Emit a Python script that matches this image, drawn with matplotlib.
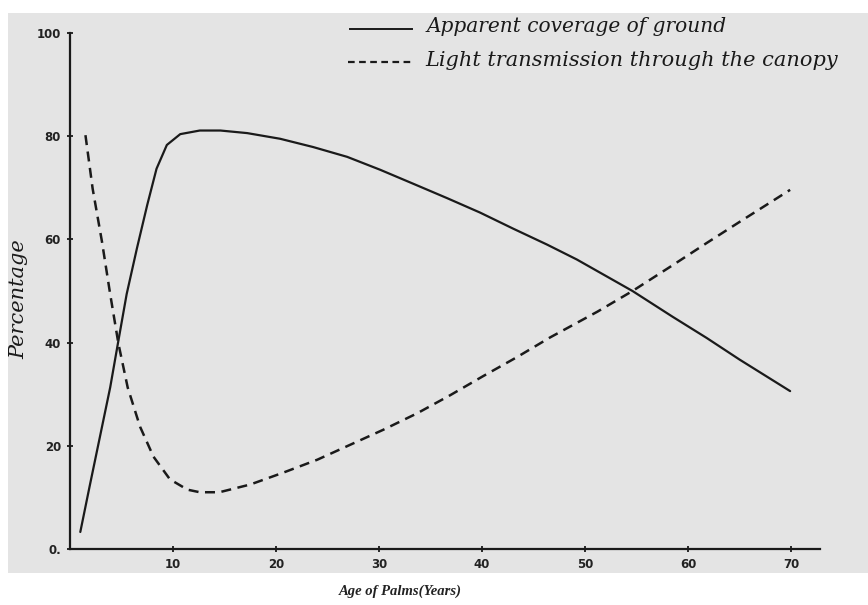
import matplotlib
matplotlib.use("Agg")
import matplotlib.pyplot as plt
from matplotlib.patches import Rectangle

# Data
coverage_age = [1.0, 1.9, 2.9, 3.9, 4.7, 5.5, 6.5, 7.5, 8.4, 9.4, 10.7, 12.6, 14.6,
                17.2, 20.4, 23.6, 26.9, 30.1, 33.3, 36.6, 39.8, 43.0, 46.3, 49.2,
                54.6, 58.5, 61.8, 65.0, 69.9]
coverage_pct = [3.3, 12.1, 21.7, 31.3, 40.4, 49.4, 58.3, 66.7, 73.7, 78.3, 80.4, 81.1, 81.1,
                80.6, 79.5, 77.9, 76.0, 73.5, 70.8, 68.0, 65.2, 62.1, 59.0, 56.1,
                50.0, 45.0, 40.9, 36.7, 30.6]

light_age = [1.5, 2.2, 3.1, 3.9, 4.7, 5.6, 6.8, 8.1, 9.7, 11.4, 12.6, 14.5, 17.5,
             20.7, 24.0, 27.2, 30.4, 33.7, 36.9, 40.1, 43.4, 46.6, 51.2, 54.6,
             58.5, 61.8, 65.0, 69.9]
light_pct = [80.2, 69.8, 59.6, 49.4, 39.8, 31.3, 23.7, 17.9, 13.5, 11.5, 11.0, 11.0, 12.5,
             14.8, 17.3, 20.2, 23.1, 26.3, 29.8, 33.5, 37.2, 41.0, 46.0, 50.0,
             55.0, 59.3, 63.4, 69.6]

x_ticks = [10, 20, 30, 40, 50, 60, 70]
x_tick_labels = ["10", "20", "30", "40", "50", "60", "70"]
y_ticks = [0, 20, 40, 60, 80, 100]
y_tick_labels = ["0.", "20", "40", "60", "80", "100"]

legend_labels = ["Apparent coverage of ground", "Light transmission through the canopy"]
x_label = "Age of Palms(Years)"
y_label = "Percentage"

W, H = 868, 605
fig = plt.figure(figsize=(W / 100, H / 100), dpi=100)
fig.patch.set_facecolor("white")

# scanned page background
fig.patches.append(Rectangle((8 / W, (H - 573) / H), 1 - 8 / W, (573 - 13) / H,
                             transform=fig.transFigure, facecolor="#e4e4e4",
                             edgecolor="none", zorder=-10))

ax = fig.add_axes([70 / W, (H - 549) / H, (820 - 70) / W, (549 - 33) / H])
ax.set_zorder(2)
ax.set_facecolor("none")
ink = "#1a1a1a"

ax.plot(coverage_age, coverage_pct, color=ink, lw=1.6, solid_capstyle="round",
        solid_joinstyle="round")
ax.plot(light_age, light_pct, color=ink, lw=1.8, dashes=(4, 2.6))

ax.set_xlim(0, 72.8)
ax.set_ylim(0, 100)
for s in ["top", "right"]:
    ax.spines[s].set_visible(False)
for s in ["left", "bottom"]:
    ax.spines[s].set_color(ink)
    ax.spines[s].set_linewidth(1.6)

ax.set_xticks(x_ticks)
ax.set_xticklabels(x_tick_labels)
ax.set_yticks(y_ticks)
ax.set_yticklabels(y_tick_labels)
ax.tick_params(axis="both", colors=ink, direction="inout", length=5, width=1.3,
               labelsize=8.5, pad=4)
for lab in ax.get_xticklabels() + ax.get_yticklabels():
    lab.set_fontweight("bold")
    lab.set_color("#222222")

# handwritten-style legend
fig.add_artist(plt.Line2D([350 / W, 412 / W], [(H - 29) / H] * 2, color=ink, lw=1.4,
                          transform=fig.transFigure))
fig.add_artist(plt.Line2D([348 / W, 412 / W], [(H - 62) / H] * 2, color=ink, lw=1.6,
                          dashes=(3, 2), transform=fig.transFigure))
fig.text(427 / W, (H - 27) / H, legend_labels[0], fontsize=14.5, style="italic",
         family="DejaVu Serif", color=ink, va="center", ha="left")
fig.text(425 / W, (H - 61) / H, legend_labels[1], fontsize=15, style="italic",
         family="DejaVu Serif", color=ink, va="center", ha="left")

fig.text(19 / W, (H - 299) / H, y_label, rotation=90, fontsize=15, style="italic",
         family="DejaVu Serif", color=ink, va="center", ha="center")
fig.text(400 / W, (H - 591) / H, x_label, fontsize=10.5, style="italic", weight="bold",
         family="Liberation Serif", color="#222222", va="center", ha="center")

fig.savefig("out.png", dpi=100)
